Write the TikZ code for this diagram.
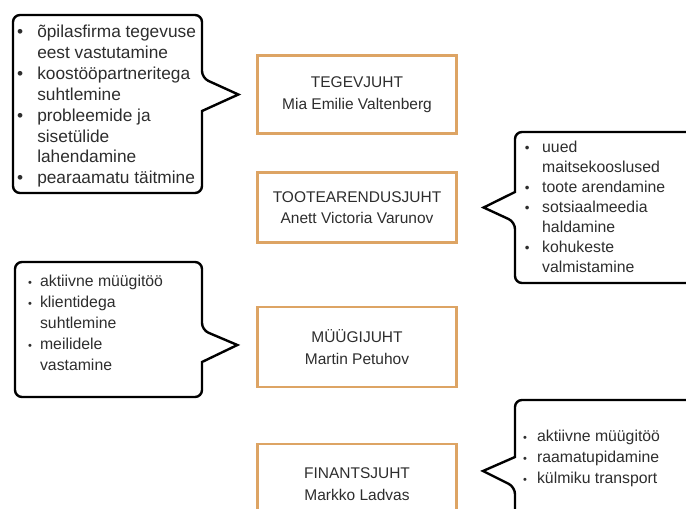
\documentclass[tikz,border=0pt]{standalone}
\usepackage{fontspec}
\setmainfont{Liberation Sans}
\usepackage{xcolor}
\usetikzlibrary{positioning, calc}

\definecolor{roleorange}{RGB}{221,164,100}
\definecolor{inkgray}{RGB}{45,45,45}

\begin{document}
\begin{tikzpicture}[x=1pt, y=-1pt,
  rolebox/.style={draw=roleorange, line width=2.3pt, minimum width=199pt, align=center, inner sep=0pt, text=inkgray, font=\fontsize{15.5}{21.5}\selectfont},
  bubble/.style={draw=black, line width=2.4pt, line join=miter},
  notes/.style={anchor=west, inner sep=0pt, text=inkgray}]
\clip (0,0) rectangle (686,509);

% role boxes
\node[rolebox, minimum height=78pt] (ceo) at (357,94.5) {TEGEVJUHT\\Mia Emilie Valtenberg};
\node[rolebox, minimum height=70pt] (dev) at (357,207.5) {TOOTEARENDUSJUHT\\Anett Victoria Varunov};
\node[rolebox, minimum height=80pt] (sales) at (357,347) {MÜÜGIJUHT\\Martin Petuhov};
\node[rolebox, minimum height=80pt] (fin) at (357,484) {FINANTSJUHT\\Markko Ladvas};

% speech bubbles
\draw[bubble] (202,111) [rounded corners=7pt] -- (202,193) -- (13,193) -- (13,15) -- (202,15) -- (202,78) [sharp corners] -- ($(ceo.west)+(-18,0)$) -- cycle;
\draw[bubble] (515,192) [rounded corners=7pt] -- (515,132) -- (700,132) -- (700,283) -- (515,283) -- (515,222) [sharp corners] -- ($(dev.east)+(26,0)$) -- cycle;
\draw[bubble] (202,362) [rounded corners=7pt] -- (202,397) -- (15,397) -- (15,262) -- (202,262) -- (202,330) [sharp corners] -- ($(sales.west)+(-19,-2)$) -- cycle;
\draw[bubble] (515,457) [rounded corners=7pt] -- (515,400) -- (700,400) -- (700,540) -- (515,540) -- (515,487) [sharp corners] -- (483,471) -- cycle;

% task lists
\node[notes, font=\fontsize{17.3}{20.9}\selectfont] (ceoTasks) at (17,106.5) {\begin{tabular}{@{}l@{\hspace{14pt}}l@{}}
\textbullet & õpilasfirma tegevuse\\
 & eest vastutamine\\
\textbullet & koostööpartneritega\\
 & suhtlemine\\
\textbullet & probleemide ja\\
 & sisetülide\\
 & lahendamine\\
\textbullet & pearaamatu täitmine
\end{tabular}};
\node[notes, font=\fontsize{15.8}{20}\selectfont] (devTasks) at (524.6,208) {\begin{tabular}{@{}l@{\hspace{12.7pt}}l@{}}
\scalebox{.85}{\textbullet} & uued\\
 & maitsekooslused\\
\scalebox{.85}{\textbullet} & toote arendamine\\
\scalebox{.85}{\textbullet} & sotsiaalmeedia\\
 & haldamine\\
\scalebox{.85}{\textbullet} & kohukeste\\
 & valmistamine
\end{tabular}};
\node[notes, font=\fontsize{15.8}{21}\selectfont] (salesTasks) at (28,324.5) {\begin{tabular}{@{}l@{\hspace{8pt}}l@{}}
\scalebox{.7}{\textbullet} & aktiivne müügitöö\\
\scalebox{.7}{\textbullet} & klientidega\\
 & suhtlemine\\
\scalebox{.7}{\textbullet} & meilidele\\
 & vastamine
\end{tabular}};
\node[notes, font=\fontsize{15.8}{21}\selectfont] (finTasks) at (523,458.5) {\begin{tabular}{@{}l@{\hspace{10pt}}l@{}}
\scalebox{.7}{\textbullet} & aktiivne müügitöö\\
\scalebox{.7}{\textbullet} & raamatupidamine\\
\scalebox{.7}{\textbullet} & külmiku transport
\end{tabular}};
\end{tikzpicture}
\end{document}
